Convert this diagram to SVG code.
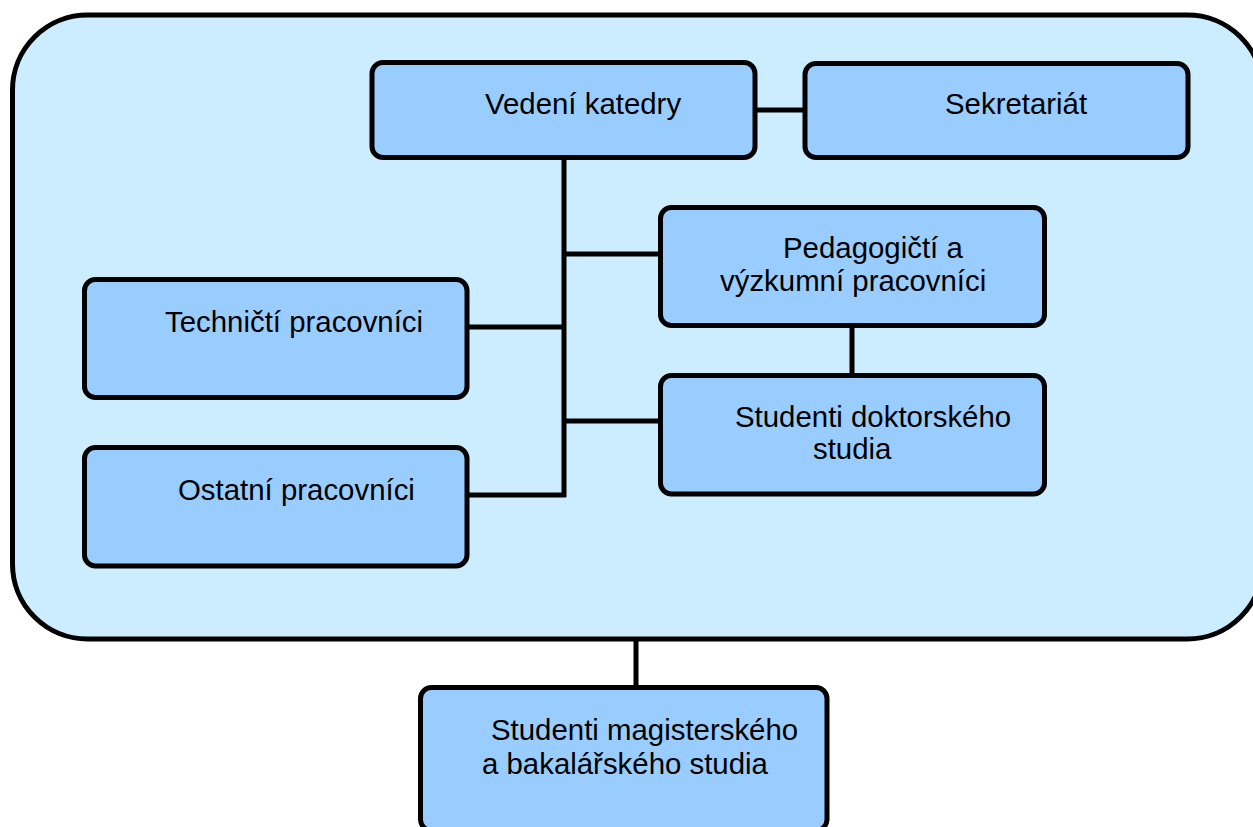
<svg xmlns="http://www.w3.org/2000/svg" width="1253" height="827" viewBox="0 0 1253 827">
<style>
.node{fill:#99CCFF;stroke:#000;stroke-width:5}
.conn line{stroke:#000;stroke-width:5}
text{font-family:"Liberation Sans",Arial,sans-serif;font-size:29.4px;fill:#000}
</style>
<rect width="1253" height="827" fill="#fff"/>
<g id="department">
<rect x="12.5" y="15" width="1250" height="624" rx="75" ry="75" fill="#CCECFF" stroke="#000" stroke-width="5"/>
</g>
<g class="conn" id="connectors">
<line x1="755" y1="110" x2="805" y2="110"/>
<line x1="564" y1="157" x2="564" y2="497"/>
<line x1="564" y1="254" x2="660" y2="254"/>
<line x1="564" y1="421" x2="660" y2="421"/>
<line x1="467" y1="327" x2="566" y2="327"/>
<line x1="467" y1="495" x2="566" y2="495"/>
<line x1="852" y1="325" x2="852" y2="376"/>
<line x1="636" y1="639" x2="636" y2="688"/>
</g>
<g id="vedeni"><rect class="node" x="372" y="62.5" width="383" height="95" rx="11"/><text x="485" y="114">Vedení katedry</text></g>
<g id="sekretariat"><rect class="node" x="805" y="63.5" width="383" height="94" rx="11"/><text x="945" y="114">Sekretariát</text></g>
<g id="pedagogicti"><rect class="node" x="660.5" y="207.5" width="384" height="118" rx="11"/><text x="783" y="258">Pedagogičtí a</text><text x="720" y="291">výzkumní pracovníci</text></g>
<g id="technicti"><rect class="node" x="84.5" y="279.5" width="382.5" height="118" rx="11"/><text x="165" y="332">Techničtí pracovníci</text></g>
<g id="doktorandi"><rect class="node" x="660.5" y="375.5" width="384" height="118.5" rx="11"/><text x="735" y="427">Studenti doktorského</text><text x="813" y="459">studia</text></g>
<g id="ostatni"><rect class="node" x="84.5" y="447.5" width="382.5" height="118.5" rx="11"/><text x="178" y="500">Ostatní pracovníci</text></g>
<g id="studenti"><rect class="node" x="420.5" y="687.5" width="406.5" height="143" rx="11"/><text x="491" y="740">Studenti magisterského</text><text x="482" y="774">a bakalářského studia</text></g>
</svg>
